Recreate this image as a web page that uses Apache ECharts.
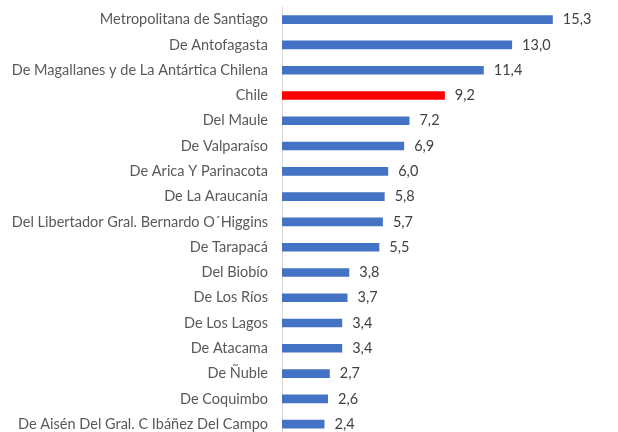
<!DOCTYPE html>
<html>
<head>
<meta charset="utf-8">
<script src="https://cdn.jsdelivr.net/npm/echarts@6/dist/echarts.min.js"></script>
<style>html,body{margin:0;padding:0;background:#fff;overflow:hidden;}#c{width:618px;height:445px;}</style>
</head>
<body>
<div id="c"></div>
<script>
var categories = [
  "Metropolitana de Santiago",
  "De Antofagasta",
  "De Magallanes y de La Antártica Chilena",
  "Chile",
  "Del Maule",
  "De Valparaíso",
  "De Arica Y Parinacota",
  "De La Araucanía",
  "Del Libertador Gral. Bernardo O´Higgins",
  "De Tarapacá",
  "Del Biobío",
  "De Los Ríos",
  "De Los Lagos",
  "De Atacama",
  "De Ñuble",
  "De Coquimbo",
  "De Aisén Del Gral. C Ibáñez Del Campo"
];
var values = [15.3, 13.0, 11.4, 9.2, 7.2, 6.9, 6.0, 5.8, 5.7, 5.5, 3.8, 3.7, 3.4, 3.4, 2.7, 2.6, 2.4];
var highlight = "Chile";

var chart = echarts.init(document.getElementById('c'));
chart.setOption({
  animation: false,
  grid: { left: 282, top: 7, width: 318.6, height: 429.8, containLabel: false },
  xAxis: { type: 'value', min: 0, max: 18, show: false },
  yAxis: {
    type: 'category',
    inverse: true,
    data: categories,
    axisLine: { show: true, lineStyle: { color: '#d9d9d9', width: 1 } },
    axisTick: { show: false },
    axisLabel: { margin: 14, color: '#595959', fontFamily: 'Lato', fontSize: 14.5 }
  },
  series: [{
    type: 'bar',
    barWidth: 8.6,
    data: values.map(function (v, i) {
      return { value: v, itemStyle: { color: categories[i] === highlight ? '#ff0000' : '#4472c4' } };
    }),
    label: {
      show: true, position: 'right', distance: 10,
      color: '#404040', fontFamily: 'Lato', fontSize: 14.5,
      formatter: function (p) { return p.value.toFixed(1).replace('.', ','); }
    }
  }]
});
</script>
</body>
</html>
